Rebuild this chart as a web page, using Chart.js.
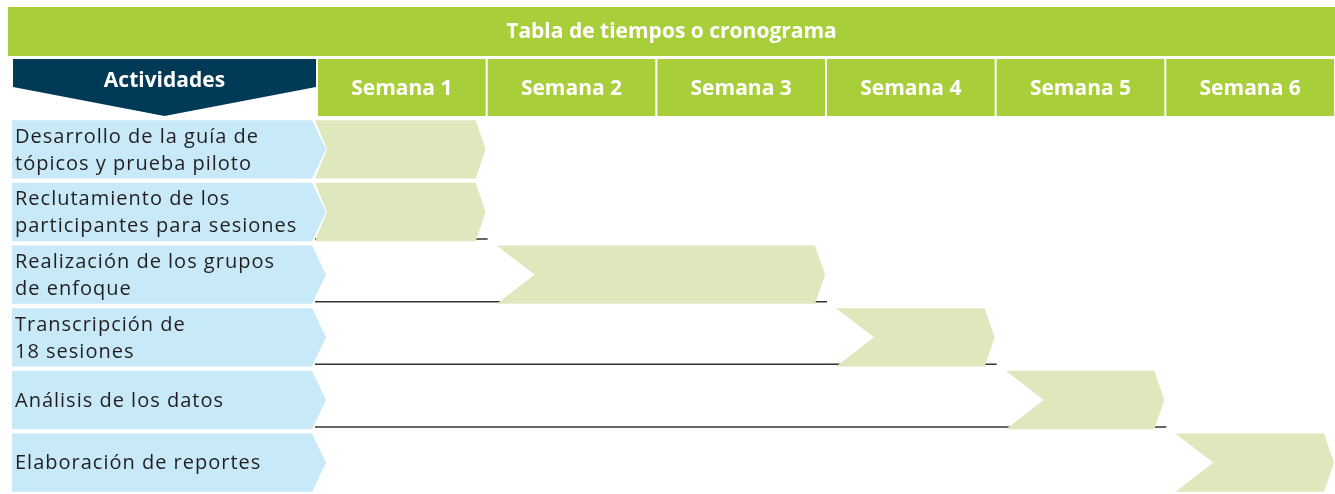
<!DOCTYPE html>
<html>
<head>
<meta charset="utf-8">
<script src="https://cdn.jsdelivr.net/npm/chart.js@4.4.0/dist/chart.umd.min.js"></script>
<style>
  html, body { margin: 0; padding: 0; background: #fff; }
  .chart-container { position: relative; width: 1335px; height: 494px; }
</style>
</head>
<body>
<div class="chart-container"><canvas id="cronograma"></canvas></div>
<script>
// datos del cronograma
const titulo = 'Tabla de tiempos o cronograma';
const encabezado = 'Actividades';
const semanas = ['Semana 1', 'Semana 2', 'Semana 3', 'Semana 4', 'Semana 5', 'Semana 6'];
const actividades = [
  ['Desarrollo de la guía de', 'tópicos y prueba piloto'],
  ['Reclutamiento de los', 'participantes para sesiones'],
  ['Realización de los grupos', 'de enfoque'],
  ['Transcripción de', '18 sesiones'],
  ['Análisis de los datos'],
  ['Elaboración de reportes']
];
const inicio = [0, 0, 1, 3, 4, 5];
const fin = [1, 1, 3, 4, 5, 6];

const VERDE = '#a8cf3a';
const VERDE_CLARO = '#dee8bc';
const AZUL_CLARO = '#c7e9f8';
const AZUL_OSCURO = '#003a57';
const FUENTE = '"Open Sans", sans-serif';

// dibuja encabezados, etiquetas y barras tipo flecha
const cronogramaPlugin = {
  id: 'cronograma',
  beforeDatasetsDraw(chart) {
    const { ctx, scales: { x, y } } = chart;
    ctx.save();
    // barra de titulo
    ctx.fillStyle = VERDE;
    ctx.fillRect(8, 7, chart.width - 8, 49);
    ctx.fillStyle = '#fff';
    ctx.font = 'bold 21px ' + FUENTE;
    ctx.textAlign = 'center';
    ctx.textBaseline = 'middle';
    ctx.fillText(titulo, (8 + chart.width) / 2, 32);

    // celdas de semanas
    semanas.forEach((s, i) => {
      const x0 = x.getPixelForValue(i) + 1;
      const x1 = x.getPixelForValue(i + 1) - 1;
      ctx.fillStyle = VERDE;
      ctx.fillRect(x0, 59, x1 - x0, 57);
      ctx.fillStyle = '#fff';
      ctx.fillText(s, (x0 + x1) / 2, 89);
    });

    // Actividades (flecha hacia abajo)
    const left = 13, right = x.getPixelForValue(0) - 1;
    ctx.fillStyle = AZUL_OSCURO;
    ctx.beginPath();
    ctx.moveTo(left, 59);
    ctx.lineTo(right, 59);
    ctx.lineTo(right, 87);
    ctx.lineTo((left + right) / 2, 116);
    ctx.lineTo(left, 87);
    ctx.closePath();
    ctx.fill();
    ctx.fillStyle = '#fff';
    ctx.fillText(encabezado, (left + right) / 2, 81);

    // etiquetas de actividades
    const meta = chart.getDatasetMeta(0);
    ctx.font = '20px ' + FUENTE;
    ctx.letterSpacing = '1px';
    ctx.textAlign = 'left';
    actividades.forEach((lineas, i) => {
      const cy = y.getPixelForValue(i);
      const h = meta.data[i].height;
      const top = cy - h / 2, bottom = cy + h / 2;
      const r = x.getPixelForValue(0) - 1;
      ctx.fillStyle = AZUL_CLARO;
      ctx.beginPath();
      ctx.moveTo(12, top);
      ctx.lineTo(r - 4, top);
      ctx.lineTo(r + 10, cy);
      ctx.lineTo(r - 4, bottom);
      ctx.lineTo(12, bottom);
      ctx.closePath();
      ctx.fill();
      ctx.fillStyle = '#231f20';
      const off = (lineas.length - 1) * 13.5;
      lineas.forEach((t, k) => ctx.fillText(t, 15, cy - off + k * 27 + 1));
    });
    ctx.letterSpacing = '0px';

    // lineas bajo las filas intermedias
    ctx.strokeStyle = '#333';
    ctx.lineWidth = 1.5;
    for (let i = 1; i < actividades.length - 1; i++) {
      const ly = y.getPixelForValue(i) + 27;
      ctx.beginPath();
      ctx.moveTo(x.getPixelForValue(0) - 2, ly);
      ctx.lineTo(x.getPixelForValue(fin[i]) + 1, ly);
      ctx.stroke();
    }
    ctx.restore();
  },
  afterDatasetsDraw(chart) {
    const { ctx, scales: { x } } = chart;
    const meta = chart.getDatasetMeta(0);
    ctx.save();
    ctx.fillStyle = VERDE_CLARO;
    meta.data.forEach((bar, i) => {
      const l = x.getPixelForValue(inicio[i]);
      const r = x.getPixelForValue(fin[i]) - 1;
      const top = bar.y - bar.height / 2, bottom = bar.y + bar.height / 2;
      const a = inicio[i] === 0 ? -2 : 10;
      const n = inicio[i] === 0 ? 12 : 38;
      const p = 10;
      ctx.beginPath();
      ctx.moveTo(l + a, top);
      ctx.lineTo(r - p, top);
      ctx.lineTo(r, bar.y);
      ctx.lineTo(r - p, bottom);
      ctx.lineTo(l + a, bottom);
      ctx.lineTo(l + a + n, bar.y);
      ctx.closePath();
      ctx.fill();
    });
    ctx.restore();
  }
};

new Chart(document.getElementById('cronograma'), {
  type: 'bar',
  data: {
    labels: actividades,
    datasets: [{
      data: actividades.map((a, i) => [inicio[i], fin[i]]),
      backgroundColor: 'rgba(0,0,0,0)',
      borderWidth: 0,
      barPercentage: 0.93,
      categoryPercentage: 1
    }]
  },
  options: {
    indexAxis: 'y',
    responsive: true,
    maintainAspectRatio: false,
    animation: false,
    layout: { padding: { left: 317, top: 118, right: 0, bottom: 0 } },
    scales: {
      x: { type: 'linear', min: 0, max: semanas.length, display: false },
      y: { display: false }
    },
    plugins: { legend: { display: false }, tooltip: { enabled: false } }
  },
  plugins: [cronogramaPlugin]
});
</script>
</body>
</html>
